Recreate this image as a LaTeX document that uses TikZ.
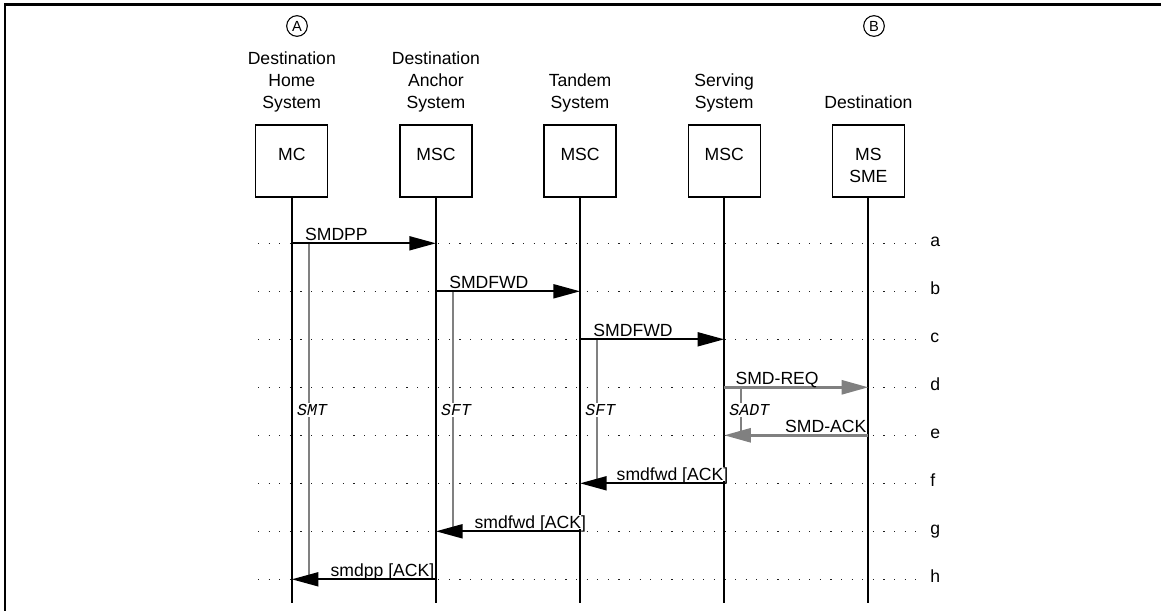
\documentclass[tikz,border=0pt]{standalone}
\usepackage{fontspec}
\setmainfont{Liberation Sans}
\newfontfamily\timerfont{Liberation Mono}
\usetikzlibrary{arrows.meta,positioning}
\definecolor{smsGray}{RGB}{128,128,128}
\definecolor{smsDots}{RGB}{30,30,30}

\begin{document}
\begin{tikzpicture}[
  x=0.75pt, y=-0.75pt,
  font=\fontsize{13.2}{16.5}\selectfont,
  pageframe/.style={line width=2pt},
  sysbox/.style={draw, line width=0.9pt, minimum width=54pt, minimum height=54pt,
    inner sep=0pt, outer sep=0pt},
  boxtext/.style={anchor=north, yshift=-17pt, align=center, inner sep=0pt},
  header/.style={align=center, inner sep=0pt, text depth=3pt},
  endpoint/.style={draw, circle, line width=0.8pt, minimum size=15.5pt, inner sep=0pt,
    font=\fontsize{11}{13}\selectfont},
  lifeline/.style={line width=1.5pt},
  rowdots/.style={line width=0.85pt, smsDots, dash pattern=on 0.85pt off 7.1pt},
  rowlabel/.style={anchor=mid west, inner sep=0pt},
  msg/.style={line width=1.5pt, -{Triangle[length=20pt,width=10.5pt]}},
  airmsg/.style={msg, smsGray, line width=2pt},
  fwdlabel/.style={anchor=base west, inner sep=0.75pt, text depth=0pt, fill=white, yshift=2.25pt, text=black},
  backlabel/.style={anchor=base east, inner sep=0.75pt, text depth=0pt, fill=white, yshift=2.25pt, text=black},
  timer/.style={smsGray, line width=1.2pt},
  timerlabel/.style={anchor=west, inner sep=0.75pt, fill=white,
    font=\timerfont\itshape\fontsize{12.5}{15}\selectfont}
]
  \useasboundingbox (0,0) rectangle (1161,611);
  \draw[pageframe] (1161,4.3) -- (5,4.3) -- (5,611);

  % network elements
  \node[sysbox, label={[boxtext]north:MC}] (mc) at (291.8,161) {};
  \node[sysbox, right=54.1pt of mc, label={[boxtext]north:MSC}] (anchormsc) {};
  \node[sysbox, right=54.1pt of anchormsc, label={[boxtext]north:MSC}] (tandemmsc) {};
  \node[sysbox, right=54.1pt of tandemmsc, label={[boxtext]north:MSC}] (servmsc) {};
  \node[sysbox, right=54.1pt of servmsc, label={[boxtext]north:MS\\SME}] (destms) {};

  \node[header, above=8.85pt of mc] (homesys) {Destination\\Home\\System};
  \node[header, above=8.85pt of anchormsc] (anchorsys) {Destination\\Anchor\\System};
  \node[header, above=8.85pt of tandemmsc] (tandemsys) {Tandem\\System};
  \node[header, above=8.85pt of servmsc] (servsys) {Serving\\System};
  \node[header, above=8.85pt of destms] (destsys) {Destination};

  \node[endpoint] (ptA) at (297,26) {A};
  \node[endpoint] (ptB) at (874,26) {B};

  % rows a..h
  \foreach \r [count=\i] in {a,b,c,d,e,f,g,h}{
    \pgfmathsetmacro{\rowy}{195.3+48*\i}
    \draw[rowdots] (258,\rowy) -- (919,\rowy);
    \node[rowlabel] (l\r) at (930,\rowy) {\r};
  }

  % timers
  \coordinate (trow) at (0,410);
  \draw[timer] ([xshift=12.75pt]mc |- la.mid) -- ([xshift=12.75pt]mc |- lh.mid);
  \draw[timer] ([xshift=12.75pt]anchormsc |- lb.mid) -- ([xshift=12.75pt]anchormsc |- lg.mid);
  \draw[timer] ([xshift=12.75pt]tandemmsc |- lc.mid) -- ([xshift=12.75pt]tandemmsc |- lf.mid);
  \draw[timer] ([xshift=12.75pt]servmsc |- ld.mid) -- ([xshift=12.75pt]servmsc |- le.mid);
  \node[timerlabel] (smt) at ([xshift=3pt]mc |- trow) {SMT};
  \node[timerlabel] (sftanchor) at ([xshift=3pt]anchormsc |- trow) {SFT};
  \node[timerlabel] (sfttandem) at ([xshift=3pt]tandemmsc |- trow) {SFT};
  \node[timerlabel] (sadt) at ([xshift=3pt]servmsc |- trow) {SADT};

  % lifelines
  \coordinate (bottom) at (0,603);
  \foreach \n in {mc,anchormsc,tandemmsc,servmsc,destms}
    \draw[lifeline] (\n) -- (\n |- bottom);

  % messages
  \draw[msg] (mc |- la.mid) -- node[fwdlabel, pos=0, xshift=8.5pt] {SMDPP} (anchormsc |- la.mid);
  \draw[msg] (anchormsc |- lb.mid) -- node[fwdlabel, pos=0, xshift=8.5pt] {SMDFWD} (tandemmsc |- lb.mid);
  \draw[msg] (tandemmsc |- lc.mid) -- node[fwdlabel, pos=0, xshift=8.5pt] {SMDFWD} (servmsc |- lc.mid);
  \draw[airmsg] (servmsc |- ld.mid) -- node[fwdlabel, pos=0, xshift=6.75pt] {SMD-REQ} (destms |- ld.mid);
  \draw[airmsg] (destms |- le.mid) -- node[backlabel, pos=0, xshift=0.3pt] {SMD-ACK} (servmsc |- le.mid);
  \draw[msg] (servmsc |- lf.mid) -- node[backlabel, pos=0, xshift=4.5pt] {smdfwd [ACK]} (tandemmsc |- lf.mid);
  \draw[msg] (tandemmsc |- lg.mid) -- node[backlabel, pos=0, xshift=6pt] {smdfwd [ACK]} (anchormsc |- lg.mid);
  \draw[msg] (anchormsc |- lh.mid) -- node[backlabel, pos=0, xshift=0.3pt] {smdpp [ACK]} (mc |- lh.mid);
\end{tikzpicture}
\end{document}
